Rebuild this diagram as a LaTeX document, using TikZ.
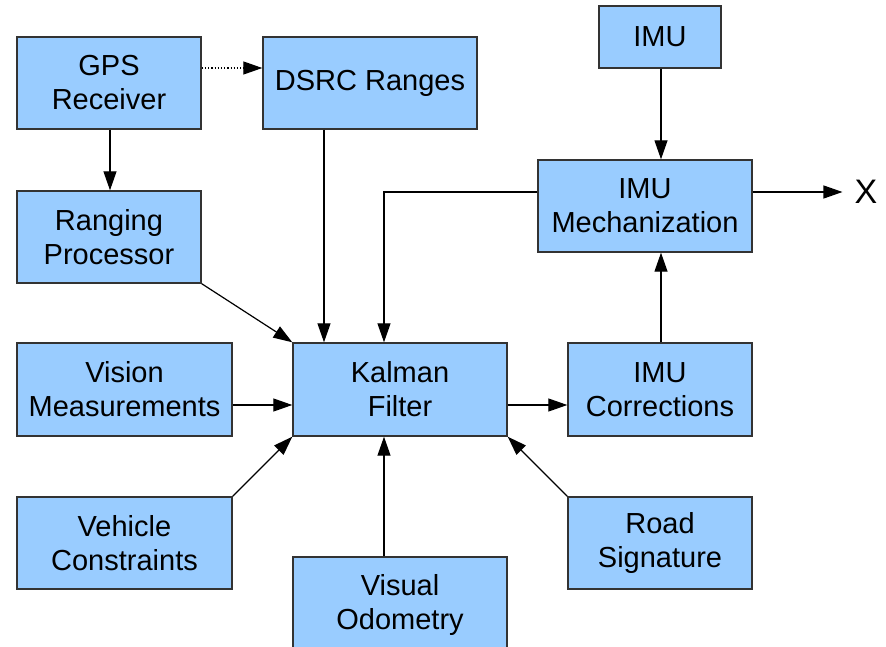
\documentclass[tikz,border=0pt]{standalone}
\usepackage{fontspec}
\setmainfont{Liberation Sans}
\usetikzlibrary{arrows.meta}
\definecolor{boxfill}{HTML}{99CCFF}
\definecolor{boxline}{HTML}{333333}
\tikzset{
  blk/.style={draw=boxline, fill=boxfill, line width=1.4pt, inner sep=0pt,
    align=center, font=\fontsize{29}{34}\selectfont},
  arr/.style={line width=1.2pt, -{Triangle[length=19pt,width=13pt]}},
}
\newcommand{\blkat}[6]{% name, x1, y1, x2, y2, text
  \node[blk, minimum width={#4-#2}, minimum height={#5-#3}] (#1) at ({(#2+#4)/2},{(#3+#5)/2}) {#6};}
\begin{document}
\begin{tikzpicture}[x=1pt,y=-1pt]
\useasboundingbox (0,0) rectangle (886,647);
\blkat{gps}{17}{37}{201}{129}{GPS\\Receiver}
\blkat{dsrc}{263}{37}{477}{129}{DSRC Ranges}
\blkat{imu}{599}{6}{721}{68}{IMU}
\blkat{mech}{538}{160}{752}{252}{IMU\\Mechanization}
\blkat{rp}{17}{191}{201}{283}{Ranging\\Processor}
\blkat{vm}{17}{343}{232}{436}{Vision\\Measurements}
\blkat{kf}{293}{343}{507}{436}{Kalman\\Filter}
\blkat{ic}{568}{343}{752}{436}{IMU\\Corrections}
\blkat{vc}{17}{497}{232}{589}{Vehicle\\Constraints}
\blkat{rs}{568}{497}{752}{589}{Road\\Signature}
\blkat{vo}{293}{557}{507}{652}{Visual\\Odometry}
\node[font=\fontsize{34}{34}\selectfont, inner sep=0pt] (x) at (866,192) {X};
\coordinate (cA) at (324,68);
\coordinate (cB) at (384,192);
\coordinate (cC) at (661,405);
\coordinate (cD) at (110,0);
% connectors
\draw[arr, dotted] (gps.east |- cA) -- (dsrc.west |- cA);
\draw[arr] (gps.south -| cD) -- (rp.north -| cD);
\draw[arr] (dsrc.south -| cA) -- (kf.north -| cA);
\draw[arr] (mech.west |- cB) -| (kf.north -| cB);
\draw[arr, shorten >=12pt] (mech.east |- cB) -- (x.west);
\draw[arr] (imu.south -| cC) -- (mech.north -| cC);
\draw[arr] (ic.north -| cC) -- (mech.south -| cC);
\draw[arr] (rp.south east) -- (kf.north west);
\draw[arr] (vm.east |- cC) -- (kf.west |- cC);
\draw[arr] (kf.east |- cC) -- (ic.west |- cC);
\draw[arr] (vc.north east) -- (kf.south west);
\draw[arr] (rs.north west) -- (kf.south east);
\draw[arr] (vo.north -| cB) -- (kf.south -| cB);
\end{tikzpicture}
\end{document}
